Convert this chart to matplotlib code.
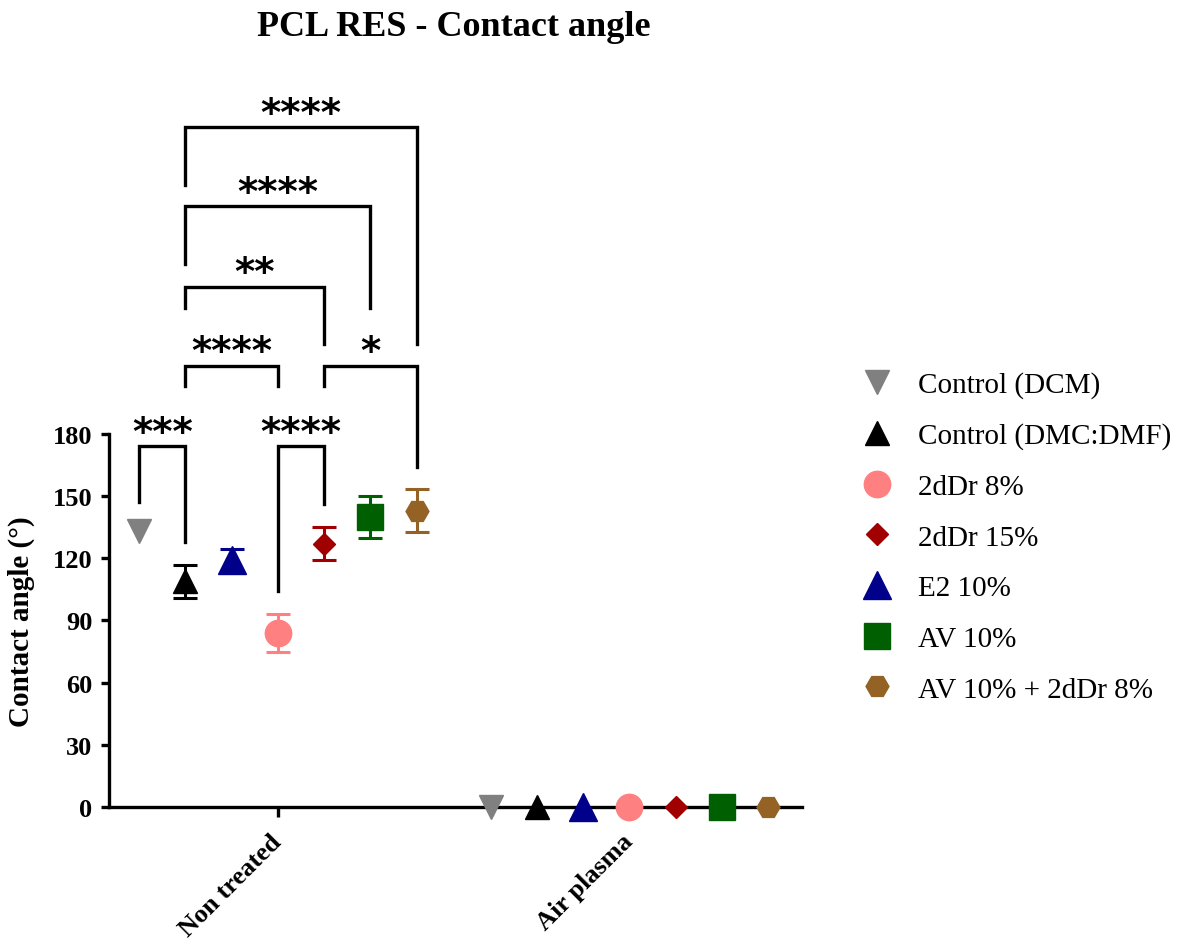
import numpy as np
import matplotlib
matplotlib.use('Agg')
import matplotlib.pyplot as plt
from matplotlib.lines import Line2D

plt.rcParams['font.family'] = ['Liberation Serif', 'DejaVu Serif']

# series in legend order
labels = ['Control (DCM)', 'Control (DMC:DMF)', '2dDr 8%', '2dDr 15%',
          'E2 10%', 'AV 10%', 'AV 10% + 2dDr 8%']
colors = ['#808080', '#000000', '#FF8080', '#A00000', '#00008B', '#005F00', '#946225']
markers = ['v', '^', 'o', 'D', '^', 's', 'H']
msizes = [17, 17, 19, 11.5, 20, 18.5, 16.5]
slot = [0, 1, 3, 4, 2, 5, 6]          # position of each series inside a group

groups = ['Non treated', 'Air plasma']
mean_nt = [133, 109, 84, 127, 119, 140, 143]
sd_nt = [0, 8, 9, 8, 5.5, 10, 10.5]
mean_ap = [0, 0, 0, 0, 0, 0, 0]
sd_ap = [0, 0, 0, 0, 0, 0, 0]

# significance: (slot a, slot b, stars, bracket top, leg end a, leg end b)
comparisons = [
    (0, 1, '***', 174, 147, 128),
    (3, 4, '****', 174, 104, 146),
    (1, 3, '****', 213, 203, 203),
    (4, 6, '*', 213, 203, 164),
    (1, 4, '**', 251, 241, 223.5),
    (1, 5, '****', 290, 262, 241),
    (1, 6, '****', 328, 300, 223.5),
]

group_x = [0, 7.6]

fig = plt.figure(figsize=(11.9, 9.45), dpi=100)
ax = fig.add_axes([0.0916, 0.145, 0.5824, 0.3947])

for i in range(len(labels)):
    xs = [g + slot[i] - 3 for g in group_x]
    ys = [mean_nt[i], mean_ap[i]]
    es = [sd_nt[i], sd_ap[i]]
    for x, y, e in zip(xs, ys, es):
        if e > 0:
            ax.errorbar([x], [y], yerr=[e], fmt='none', ecolor=colors[i], elinewidth=2.2,
                        capsize=8.3, capthick=2.2, clip_on=False, zorder=3)
    ax.plot(xs, ys, linestyle='none', marker=markers[i], color=colors[i],
            markersize=msizes[i], clip_on=False, zorder=4)

# brackets
for a, b, stars, top, ea, eb in comparisons:
    xa = group_x[0] + a - 3
    xb = group_x[0] + b - 3
    ax.plot([xa, xa, xb, xb], [ea, top, top, eb], color='black', lw=2.4,
            clip_on=False, solid_joinstyle='miter', zorder=2)
    ax.text((xa + xb) / 2, top + 6.5, stars, ha='center', va='center',
            fontsize=28, fontweight='bold', family='DejaVu Sans', clip_on=False)

ax.set_xlim(-3.65, 11.33)
ax.set_ylim(0, 180)
ax.set_yticks(np.arange(0, 181, 30))
ax.set_xticks(group_x)
ax.set_xticklabels(groups, rotation=45, ha='right', va='center', rotation_mode='anchor')

for s in ['top', 'right']:
    ax.spines[s].set_visible(False)
for s in ['left', 'bottom']:
    ax.spines[s].set_linewidth(2.4)

ax.tick_params(axis='y', direction='out', length=6, width=2.4, pad=6, labelsize=19)
ax.tick_params(axis='x', direction='out', length=7, width=2.4, pad=15, labelsize=19)
for t in ax.get_yticklabels() + ax.get_xticklabels():
    t.set_fontweight('bold')

ax.set_ylabel('Contact angle (°)', fontsize=21, fontweight='bold')
ax.yaxis.set_label_coords(-0.107, 0.5)

fig.text(0.381, 1 - 27 / 945, 'PCL RES - Contact angle', ha='center', va='center',
         fontsize=26, fontweight='bold')

handles = [Line2D([], [], linestyle='none', marker=markers[i], color=colors[i],
                  markersize=msizes[i]) for i in range(len(labels))]
fig.legend(handles, labels, loc='upper left', bbox_to_anchor=(0.7245, 0.606),
           frameon=False, fontsize=21, handlelength=1.0, handletextpad=0.9,
           labelspacing=0.83, borderpad=0, borderaxespad=0)

fig.savefig('out.png', dpi=100)
